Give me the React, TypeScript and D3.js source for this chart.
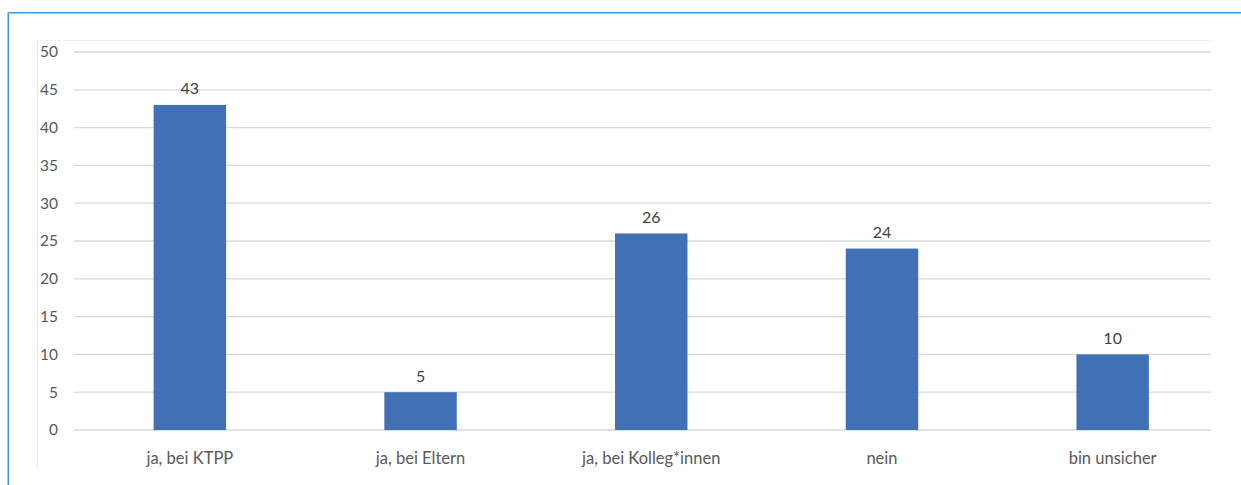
import React from "react";
import * as d3 from "d3";

const categories = ["ja, bei KTPP", "ja, bei Eltern", "ja, bei Kolleg*innen", "nein", "bin unsicher"];
const values = [43, 5, 26, 24, 10];
const yTicks = [0, 5, 10, 15, 20, 25, 30, 35, 40, 45, 50];

export default function App() {
  const W = 1241, H = 485;
  const x = d3.scaleBand<string>().domain(categories).range([74.5, 1228]).padding(0);
  const y = d3.scaleLinear().domain([0, 50]).range([430, 52]);
  const barW = x.bandwidth() * 0.314;
  const font = "Lato, 'Open Sans', sans-serif";
  return (
    <svg width={W} height={H} style={{ position: "absolute", left: 0, top: 0 }}>
      <rect x={0} y={0} width={W} height={H} fill="#fff" />
      <line x1={8.3} y1={12.7} x2={W} y2={12.7} stroke="#3a9ad9" strokeWidth={1.6} />
      <line x1={8.3} y1={12.7} x2={8.3} y2={H} stroke="#3a9ad9" strokeWidth={1.6} />
      <line x1={37.3} y1={40.5} x2={1211} y2={40.5} stroke="#efefef" strokeWidth={1} />
      <line x1={37.3} y1={40.5} x2={37.3} y2={468} stroke="#e6e6e6" strokeWidth={1} />
      {yTicks.map((t) => (
        <g key={t}>
          <line x1={74} x2={1211} y1={y(t)} y2={y(t)} stroke="#d9d9d9" strokeWidth={1.3} />
          <text x={58} y={y(t)} dy="0.35em" textAnchor="end" fontFamily={font} fontSize={15.5} fill="#595959">
            {t}
          </text>
        </g>
      ))}
      {categories.map((c, i) => {
        const cx = (x(c) as number) + x.bandwidth() / 2;
        return (
          <g key={c}>
            <rect x={cx - barW / 2} y={y(values[i])} width={barW} height={y(0) - y(values[i])} fill="#4270b4" />
            <text x={cx} y={y(values[i]) - 10.5} textAnchor="middle" fontFamily={font} fontSize={16} fill="#404040">
              {values[i]}
            </text>
            <text x={cx} y={458} dy="0.35em" textAnchor="middle" fontFamily={font} fontSize={16.5} fill="#595959">
              {c}
            </text>
          </g>
        );
      })}
    </svg>
  );
}
